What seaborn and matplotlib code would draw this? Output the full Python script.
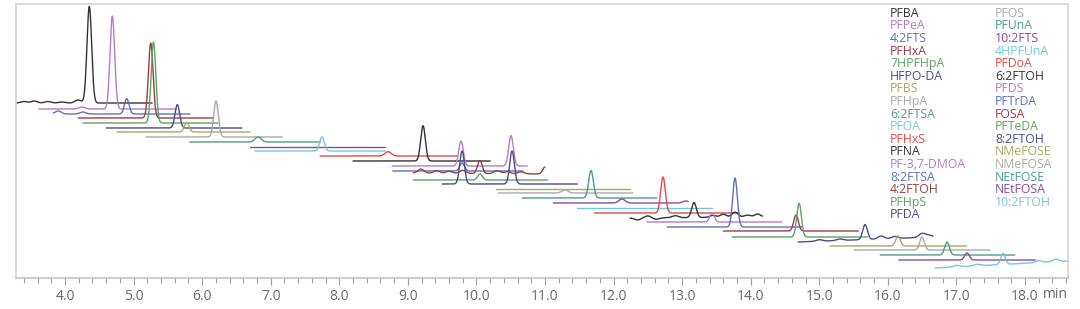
import numpy as np
import pandas as pd
import matplotlib
matplotlib.use("Agg")
import matplotlib.pyplot as plt
from matplotlib.ticker import MultipleLocator
import seaborn as sns

# ---------------- data ----------------
C = {
    "black": "#333333", "violet": "#b67cc6", "blue": "#5b72c2", "darkred": "#a23a4c",
    "green": "#5ea464", "navy": "#4b4b8e", "olive": "#a9a964", "gray": "#aaaaaa",
    "teal": "#4c9c8c", "purple": "#8a4aa8", "cyan": "#74c9d9", "red": "#e24a4a",
    "brown": "#95433a",
}

legend_left = ["PFBA", "PFPeA", "4:2FTS", "PFHxA", "7HPFHpA", "HFPO-DA", "PFBS", "PFHpA",
               "6:2FTSA", "PFOA", "PFHxS", "PFNA", "PF-3,7-DMOA", "8:2FTSA", "4:2FTOH",
               "PFHpS", "PFDA"]
legend_left_colors = ["black", "violet", "blue", "darkred", "green", "navy", "olive", "gray",
                      "teal", "cyan", "red", "black", "violet", "blue", "brown", "green", "navy"]
legend_right = ["PFOS", "PFUnA", "10:2FTS", "4HPFUnA", "PFDoA", "6:2FTOH", "PFDS", "PFTrDA",
                "FOSA", "PFTeDA", "8:2FTOH", "NMeFOSE", "NMeFOSA", "NEtFOSE", "NEtFOSA", "10:2FTOH"]
legend_right_colors = ["gray", "teal", "purple", "cyan", "red", "black", "violet", "blue",
                       "darkred", "green", "navy", "olive", "gray", "teal", "purple", "cyan"]

# traces (retention window in min, baseline offset at start/end, peaks as (rt, height))
trace_colors = ["black", "violet", "blue", "darkred", "green", "navy", "olive", "gray", "teal",
                "purple", "cyan", "red", "black", "violet", "blue", "brown", "green", "navy",
                "olive", "gray", "teal", "purple", "cyan", "red", "black", "violet", "blue",
                "darkred", "green", "navy", "olive", "gray", "teal", "purple", "cyan"]
trace_start = [3.29, 3.62, 3.83, 4.19, 4.26, 4.60, 4.76, 5.18, 5.82, 6.70, 6.77, 7.72,
               8.20, 8.77, 8.78, 9.08, 9.08, 9.50, 10.29, 10.32, 10.67, 11.12, 11.47, 11.72,
               12.24, 12.49, 12.78, 13.60, 13.73, 14.69, 15.16, 15.51, 15.89, 16.16, 16.69]
trace_end = [5.27, 5.63, 5.82, 6.17, 6.23, 6.58, 6.70, 7.17, 7.72, 8.67, 8.67, 9.72,
             10.20, 10.74, 10.68, 11.00, 11.04, 11.47, 12.24, 12.28, 12.63, 13.09, 13.44, 13.84,
             14.17, 14.46, 14.76, 15.57, 15.70, 16.66, 17.15, 17.49, 17.85, 18.15, 18.63]
trace_base_start = [175, 169, 164, 160, 155, 150, 146, 141, 136, 131, 127, 122,
                    117, 112, 107, 105, 98, 94, 89, 85, 80, 75, 70, 65,
                    60, 56, 51, 47, 41, 36, 32, 28, 23, 18, 10]
trace_base_end = [175, 169, 164, 160, 155, 150, 146, 141, 136, 131, 127, 122,
                  117, 112, 107, 104, 98, 94, 89, 85, 80, 75, 70, 65,
                  61, 56, 51, 47, 41, 41, 32, 28, 23, 18, 17]
trace_peaks = [
    [(3.40, 1.5), (3.55, 2.0), (3.75, 1.5), (3.95, 1.0), (4.19, 3.0), (4.354, 96.6)],
    [(4.25, 2.0), (4.69, 93.0)],
    [(3.90, 3.0), (4.26, 2.0), (4.90, 15.3)],
    [(5.25, 75.0)],
    [(5.29, 81.0)],
    [(5.638, 23.4)],
    [(5.775, 9.6)],
    [(6.202, 36.0)],
    [(6.815, 5.0)],
    [],
    [(7.748, 14.0)],
    [(8.711, 4.3)],
    [(9.221, 35.3)],
    [(9.775, 25.0), (10.504, 30.3)],
    [(9.79, 8.0)],
    [(9.19, 4.0), (9.42, 2.5), (9.60, 2.0), (9.80, 3.0), (10.05, 13.0), (10.30, 3.0),
     (10.45, 2.0), (10.65, 2.0), (11.00, 7.0)],
    [(10.052, 6.0)],
    [(9.79, 33.0), (10.519, 33.0)],
    [],
    [(11.292, 3.0)],
    [(11.671, 27.5)],
    [(12.123, 4.0), (13.056, 2.0)],
    [],
    [(12.721, 36.0)],
    [(12.35, -2.0), (12.50, 2.0), (12.62, -1.5), (12.90, 2.0), (13.173, 15.0), (13.45, 2.0),
     (13.60, 3.0), (13.77, 5.0), (13.95, 2.0), (14.10, 3.0)],
    [(13.436, 9.0)],
    [(13.771, 49.0)],
    [(14.661, 16.0)],
    [(14.705, 33.7)],
    [(15.00, 1.5), (15.30, 1.5), (15.667, 15.0), (15.90, 3.0), (16.10, 2.0), (16.50, 4.0),
     (16.60, 2.0)],
    [(16.148, 10.0)],
    [(16.498, 13.0)],
    [(16.863, 13.0)],
    [(17.154, 7.0)],
    [(17.00, 1.5), (17.30, 1.5), (17.68, 11.0), (18.20, 2.0), (18.45, 2.5)],
]
peak_sigma = 0.034

# ---------------- build long table ----------------
rows = []
for i in range(len(trace_colors)):
    t = np.linspace(trace_start[i], trace_end[i], 500)
    frac = (t - t[0]) / (t[-1] - t[0])
    y = trace_base_start[i] + (trace_base_end[i] - trace_base_start[i]) * frac
    for rt, h in trace_peaks[i]:
        s = peak_sigma if abs(h) > 5 else 0.045
        y = y + h * np.exp(-0.5 * ((t - rt) / s) ** 2)
    rows.append(pd.DataFrame({"t": t, "signal": y, "trace": i}))
df = pd.concat(rows, ignore_index=True)

# ---------------- plot ----------------
sns.set_theme(style="white")
plt.rcParams["font.family"] = ["Open Sans", "DejaVu Sans"]

fig = plt.figure(figsize=(10.8, 3.09), dpi=100)
ax = fig.add_axes([16 / 1080, 1 - 278 / 309, (1068 - 16) / 1080, (278 - 4) / 309])

palette = {i: C[c] for i, c in enumerate(trace_colors)}
sns.lineplot(data=df, x="t", y="signal", hue="trace", palette=palette, legend=False,
             estimator=None, sort=False, linewidth=1.0, ax=ax)

ax.set_xlim(3.285, 18.627)
ax.set_ylim(0, 274)
ax.set_xlabel("")
ax.set_ylabel("")
ax.set_yticks([])
ax.xaxis.set_major_locator(MultipleLocator(1.0))
ax.xaxis.set_minor_locator(MultipleLocator(0.2))
ax.xaxis.set_major_formatter(matplotlib.ticker.FormatStrFormatter("%.1f"))
ax.tick_params(axis="x", which="major", direction="out", length=5, width=0.8,
               color="#a0a0a0", labelsize=10, labelcolor="#6a6a6a", pad=3, bottom=True)
ax.tick_params(axis="x", which="minor", direction="out", length=3.5, width=0.8,
               color="#a0a0a0", bottom=True)
for side in ["left", "right", "top", "bottom"]:
    ax.spines[side].set_color("#d4d4d4")
    ax.spines[side].set_linewidth(1.2)
ax.spines["bottom"].set_color("#c4c4c4")

fig.text(1043 / 1080, 1 - 295 / 309, "min", ha="left", va="center",
         fontsize=10, color="#6a6a6a")

# legend as coloured text columns
for col_x, names, cols in [(890, legend_left, legend_left_colors),
                           (995, legend_right, legend_right_colors)]:
    for k, (n, c) in enumerate(zip(names, cols)):
        ypx = 13.3 + k * 12.6
        fig.text(col_x / 1080, 1 - ypx / 309, n, ha="left", va="center", fontsize=8.8,
                 color=C[c])

fig.savefig("out.png", dpi=100)
